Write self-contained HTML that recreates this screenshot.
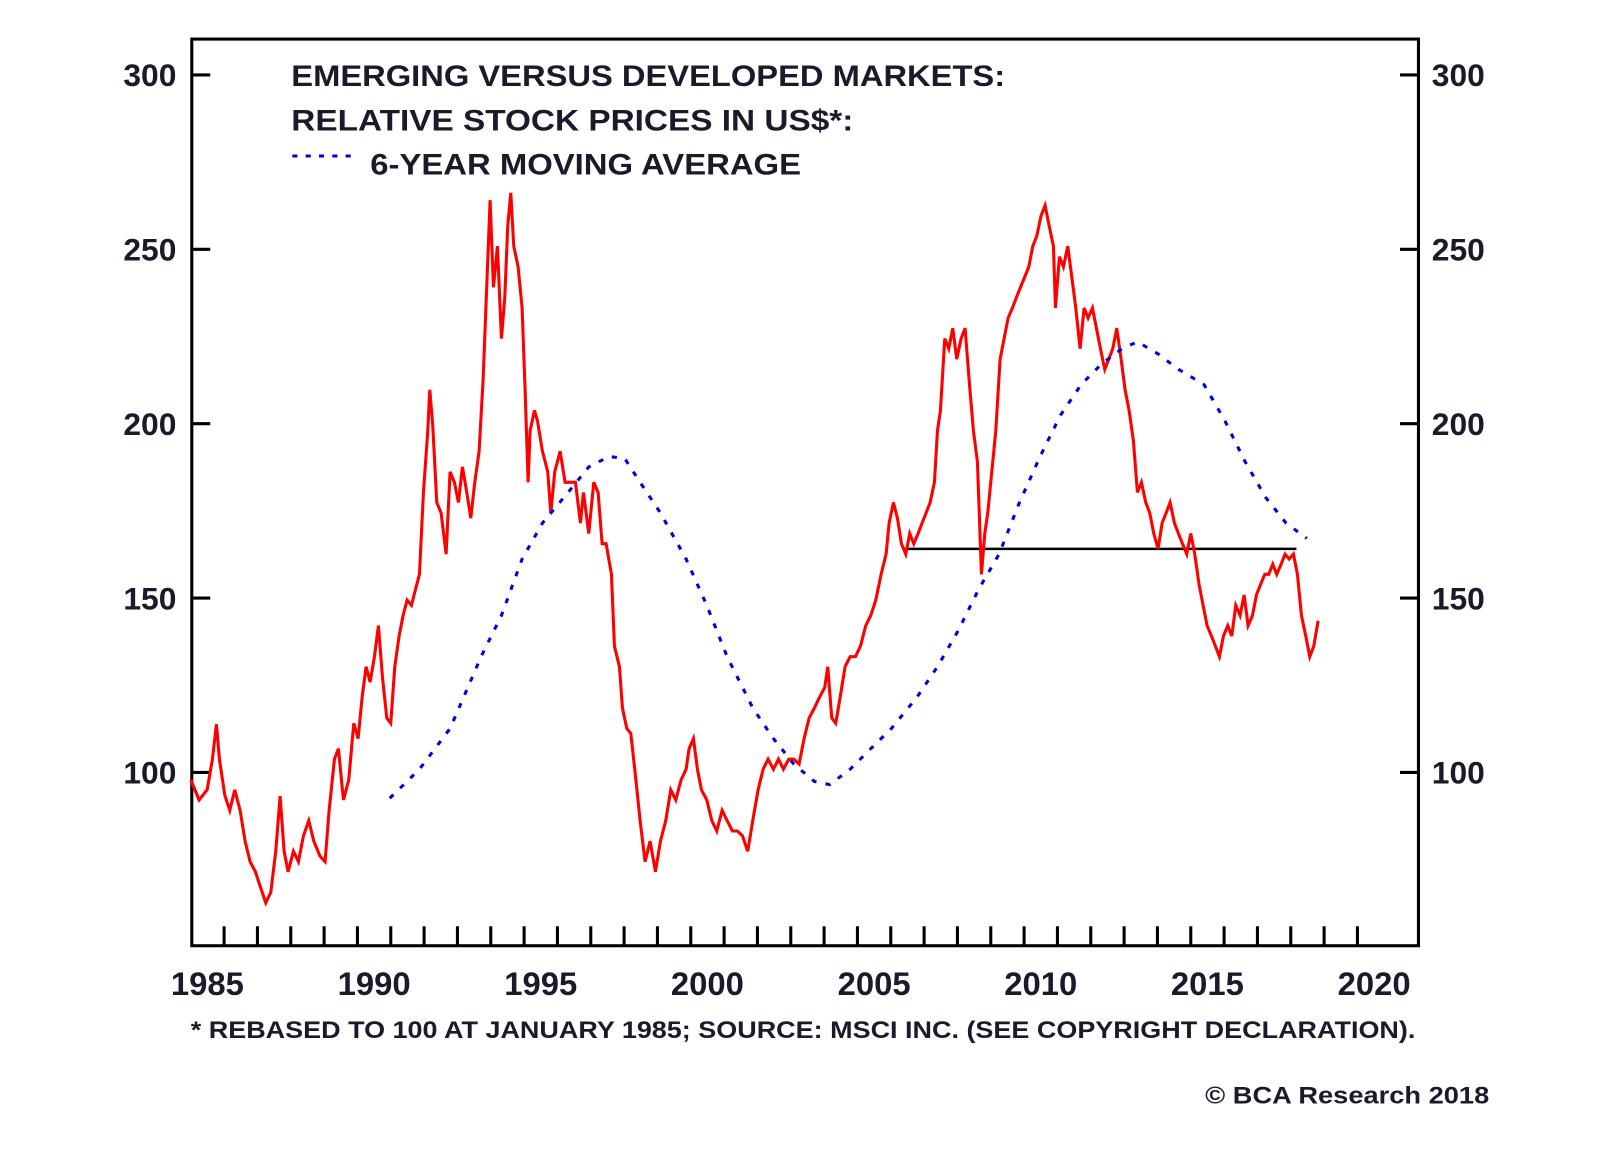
<!DOCTYPE html>
<html><head><meta charset="utf-8"><style>
html,body{margin:0;padding:0;background:#fff;}
svg{display:block;}
text{font-family:"Liberation Sans",Arial,sans-serif;font-weight:bold;fill:#1a1a2a;}
</style></head><body>
<svg id="chart" width="1600" height="1152" viewBox="0 0 1560 1123" xmlns="http://www.w3.org/2000/svg">
<rect x="187" y="38" width="1196" height="884" fill="none" stroke="#000" stroke-width="3"/>
<g id="axes"></g>
<g id="series"></g>
<text x="284" y="84" font-size="29" textLength="696" lengthAdjust="spacingAndGlyphs">EMERGING VERSUS DEVELOPED MARKETS:</text>
<text x="284" y="127" font-size="29" textLength="548" lengthAdjust="spacingAndGlyphs">RELATIVE STOCK PRICES IN US$*:</text>
<line x1="285" y1="152" x2="345" y2="152" stroke="#0000dd" stroke-width="3" stroke-dasharray="5,8"/>
<text x="361" y="170" font-size="29" textLength="420" lengthAdjust="spacingAndGlyphs">6-YEAR MOVING AVERAGE</text>
<text x="186" y="1012" font-size="23" textLength="1194" lengthAdjust="spacingAndGlyphs">* REBASED TO 100 AT JANUARY 1985; SOURCE: MSCI INC. (SEE COPYRIGHT DECLARATION).</text>
<text x="1175" y="1076" font-size="23" textLength="277" lengthAdjust="spacingAndGlyphs">© BCA Research 2018</text>
</svg>
<script>
const yTicks=[100,150,200,250,300];
const xLabels=[1985,1990,1995,2000,2005,2010,2015,2020];
const relYears=[1985.0,1985.25,1985.49,1985.65,1985.77,1985.86,1986.02,1986.17,1986.32,1986.48,1986.63,1986.78,1986.94,1987.09,1987.25,1987.4,1987.55,1987.68,1987.8,1987.92,1988.08,1988.23,1988.38,1988.54,1988.69,1988.88,1989.03,1989.15,1989.31,1989.43,1989.58,1989.74,1989.89,1990.02,1990.14,1990.26,1990.38,1990.51,1990.63,1990.75,1990.88,1991.0,1991.12,1991.25,1991.37,1991.49,1991.62,1991.74,1991.86,1991.98,1992.11,1992.17,1992.26,1992.38,1992.51,1992.66,1992.78,1992.91,1993.03,1993.15,1993.28,1993.4,1993.52,1993.65,1993.77,1993.89,1993.98,1994.08,1994.2,1994.32,1994.42,1994.51,1994.6,1994.69,1994.82,1994.94,1995.03,1995.12,1995.18,1995.31,1995.4,1995.55,1995.71,1995.8,1995.92,1996.08,1996.23,1996.38,1996.54,1996.69,1996.78,1996.94,1997.09,1997.22,1997.34,1997.46,1997.62,1997.71,1997.86,1997.95,1998.08,1998.2,1998.32,1998.48,1998.63,1998.78,1998.94,1999.09,1999.25,1999.4,1999.55,1999.71,1999.86,1999.95,2000.08,2000.2,2000.32,2000.48,2000.63,2000.78,2000.94,2001.09,2001.25,2001.4,2001.55,2001.71,2001.86,2002.02,2002.17,2002.32,2002.48,2002.63,2002.78,2002.94,2003.09,2003.25,2003.4,2003.55,2003.71,2003.86,2004.02,2004.11,2004.23,2004.35,2004.48,2004.63,2004.78,2004.94,2005.09,2005.25,2005.4,2005.55,2005.71,2005.86,2005.95,2006.08,2006.2,2006.32,2006.45,2006.57,2006.69,2006.82,2006.94,2007.06,2007.18,2007.31,2007.4,2007.49,2007.62,2007.74,2007.86,2007.98,2008.11,2008.23,2008.35,2008.48,2008.6,2008.72,2008.82,2008.91,2009.03,2009.15,2009.28,2009.4,2009.52,2009.65,2009.77,2009.89,2010.02,2010.14,2010.26,2010.38,2010.51,2010.63,2010.75,2010.88,2010.94,2011.06,2011.18,2011.31,2011.43,2011.55,2011.68,2011.8,2011.92,2012.05,2012.17,2012.29,2012.42,2012.54,2012.66,2012.78,2012.91,2013.03,2013.15,2013.28,2013.4,2013.52,2013.65,2013.77,2013.89,2014.02,2014.14,2014.26,2014.38,2014.51,2014.63,2014.75,2014.88,2015.0,2015.12,2015.25,2015.37,2015.49,2015.62,2015.74,2015.86,2015.98,2016.11,2016.23,2016.35,2016.48,2016.6,2016.72,2016.85,2016.97,2017.09,2017.22,2017.34,2017.46,2017.58,2017.71,2017.83,2017.95,2018.08,2018.2,2018.32,2018.45,2018.57,2018.69,2018.82];
const relValues=[97.9,92.1,95,103.8,113.8,103.8,93.5,89.1,95,89.1,80.3,74.4,71.5,67.1,62.6,65.6,77.4,93.2,77.4,71.5,77.4,74.4,81.8,86.2,80.3,75.9,74.4,89.1,103.8,106.8,92.1,97.9,114.1,109.7,121.5,130.3,125.9,133.2,142.1,127.4,115.6,114.1,130.3,139.1,145,149.4,147.9,152.4,156.8,180.3,197.9,209.7,199.4,177.4,174.4,162.6,186.2,183.2,177.4,187.6,180.3,172.9,183.2,192.1,212.6,242.1,264.1,239.1,250.9,224.4,236.2,256.8,266.2,250.9,245,233.2,209.7,183.2,197.9,203.8,200.9,192.1,186.2,174.4,186.2,192.1,183.2,183.2,183.2,171.5,180.3,168.5,183.2,180.3,165.6,165.6,156.8,136.2,130.3,118.5,112.6,111.2,100.9,86.2,74.4,80.3,71.5,80.3,86.2,95,92.1,97.9,100.9,106.8,109.7,100.9,95,92.1,86.2,83.2,89.1,86.2,83.2,83.2,81.8,77.4,86.2,95,100.9,103.8,100.9,103.8,100.9,103.8,103.8,102.4,109.7,115.6,118.5,121.5,124.4,130.3,115.6,114.1,121.5,130.3,133.2,133.2,136.2,142.1,145,149.4,156.8,162.6,171.5,177.4,172.9,165.6,162.6,168.5,165.6,168.5,171.5,174.4,177.4,183.2,197.9,203.8,224.4,221.5,227.4,218.5,224.4,227.4,212.6,197.9,189.1,156.8,168.5,174.4,186.2,197.9,218.5,224.4,230.3,233.2,236.2,239.1,242.1,245,250.9,253.8,259.7,262.6,256.8,250.9,233.2,247.9,245,250.9,242.1,233.2,221.5,233.2,230.3,233.2,227.4,221.5,215.6,218.5,221.5,227.4,218.5,209.7,203.8,195,180.3,183.2,177.4,174.4,168.5,164.1,171.5,174.4,177.4,171.5,168.5,165.6,162.6,168.5,162.6,153.8,147.9,142.1,139.1,136.2,133.2,139.1,142.1,139.1,147.9,145,150.9,142.1,145,150.9,153.8,156.8,156.8,159.7,156.8,159.7,162.6,161.2,162.6,156.8,145,139.1,133.2,136.2,143.5];
const maYears=[1990.97,1991.86,1992.78,1993.71,1994.32,1994.94,1995.55,1996.32,1996.94,1997.55,1998.02,1998.48,1999.09,1999.86,2000.48,2001.09,2001.86,2002.48,2003.09,2003.71,2004.17,2004.78,2005.4,2006.02,2006.78,2007.4,2008.02,2008.63,2009.25,2009.86,2010.48,2011.09,2011.71,2012.32,2012.94,2013.4,2014.02,2014.63,2015.4,2016.02,2016.63,2017.25,2017.86,2018.48];
const maValues=[92.6,100.9,112.6,133.2,145,161.2,171.5,180.3,187.6,190.6,190,183.2,174.4,161.2,147.9,133.2,118.5,109.7,102.4,97.4,96.5,100.9,106.8,112.6,121.5,130.3,140.6,152.4,162.6,177.4,190.6,202.4,211.2,217.1,221.5,223.5,220,215.6,211.2,200.9,189.1,178.8,171.5,167.1];
const refLineYears=[2006.38,2018.17];
const refLineValue=164.1;

const NS="http://www.w3.org/2000/svg";
const X0=186,XPY=32.5,Y100=753,PPU=3.4;
function xs(t){return X0+(t-1985)*XPY;}
function ys(v){return Y100-(v-100)*PPU;}
function mk(tag,attrs,parent){const e=document.createElementNS(NS,tag);for(const k in attrs)e.setAttribute(k,attrs[k]);parent.appendChild(e);return e;}
const axes=document.getElementById('axes');
const series=document.getElementById('series');
yTicks.forEach(v=>{
  const y=ys(v);
  const l=mk('line',{x1:187,y1:y,x2:205,y2:y,stroke:'#000','stroke-width':3},axes);
  
  
  const r=mk('line',{x1:1365,y1:y,x2:1383,y2:y,stroke:'#000','stroke-width':3},axes);
  
  
  const tl=mk('text',{x:172,y:y+11,'font-size':31,'text-anchor':'end'},axes);
  tl.textContent=v;
  
  
  const tr=mk('text',{x:1396,y:y+11,'font-size':31},axes);
  tr.textContent=v;
  
  
});
for(let yr=1986;yr<=2020;yr++){
  const x=xs(yr);
  const t=mk('line',{x1:x,y1:922,x2:x,y2:903,stroke:'#000','stroke-width':3},axes);
  
  
}
xLabels.forEach(yr=>{
  const t=mk('text',{x:xs(yr+0.5),y:970,'font-size':32,'text-anchor':'middle'},axes);
  t.textContent=yr;
  
  
});
const rl=mk('line',{x1:xs(refLineYears[0]),y1:ys(refLineValue),x2:xs(refLineYears[1]),y2:ys(refLineValue),stroke:'#000','stroke-width':2.5},series);


const rp=mk('polyline',{points:relYears.map((t,i)=>xs(t)+','+ys(relValues[i])).join(' '),fill:'none',stroke:'#ff0000','stroke-width':3,'stroke-linejoin':'miter'},series);


const mp=mk('polyline',{points:maYears.map((t,i)=>xs(t)+','+ys(maValues[i])).join(' '),fill:'none',stroke:'#0000dd','stroke-width':3,'stroke-dasharray':'5,9'},series);


</script>
</body></html>
